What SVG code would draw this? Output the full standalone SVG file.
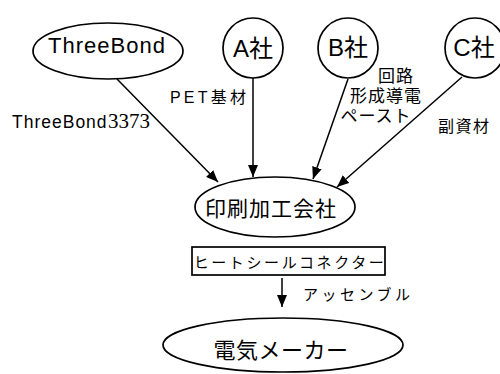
<svg xmlns="http://www.w3.org/2000/svg" width="500" height="374" viewBox="0 0 500 374">
<style>
.shape{fill:#fff;stroke:#000;stroke-width:1.7}
.t{font-family:"Liberation Sans","Noto Sans CJK JP",sans-serif;fill:#000}
.c{stroke:#000;stroke-width:1.5;fill:none}
</style>
<defs>
<marker id="ah" viewBox="0 0 12 10" refX="12" refY="5" markerWidth="12" markerHeight="10" markerUnits="userSpaceOnUse" orient="auto">
<path d="M0,0 L12,5 L0,10 z" fill="#000"/>
</marker>
</defs>
<rect width="500" height="374" fill="#fff"/>
<g id="connectors">
<line class="c" x1="117" y1="79" x2="218" y2="182" marker-end="url(#ah)"/>
<line class="c" x1="253" y1="78" x2="253" y2="177" marker-end="url(#ah)"/>
<line class="c" x1="348" y1="79" x2="313" y2="179" marker-end="url(#ah)"/>
<line class="c" x1="462" y1="77" x2="337" y2="187" marker-end="url(#ah)"/>
<line class="c" x1="282" y1="278" x2="282" y2="307" marker-end="url(#ah)"/>
</g>
<g id="labels" class="t">
<text x="12" y="128" font-size="17.5" letter-spacing="1">ThreeBond</text>
<text x="108" y="128" font-size="21" font-family="Liberation Serif, serif">3373</text>
<text x="170" y="103" font-size="16" letter-spacing="3.2">PET基材</text>
<text x="396" y="82" font-size="17" letter-spacing="1" text-anchor="middle">回路</text>
<text x="386" y="102" font-size="17" letter-spacing="1" text-anchor="middle">形成導電</text>
<text x="376" y="122" font-size="17" letter-spacing="1" text-anchor="middle">ペースト</text>
<text x="438" y="132" font-size="16" letter-spacing="1.5">副資材</text>
<text x="303" y="300" font-size="15" letter-spacing="3.5">アッセンブル</text>
</g>
<g id="threebond">
<ellipse class="shape" cx="108" cy="51" rx="75" ry="28"/>
<text class="t" x="107" y="53" font-size="22" letter-spacing="1" text-anchor="middle">ThreeBond</text>
</g>
<g id="companyA">
<circle class="shape" cx="253" cy="48" r="30"/>
<text class="t" x="253" y="57" font-size="24" text-anchor="middle">A社</text>
</g>
<g id="companyB">
<circle class="shape" cx="348" cy="48" r="30"/>
<text class="t" x="348" y="56" font-size="24" text-anchor="middle">B社</text>
</g>
<g id="companyC">
<circle class="shape" cx="475" cy="48" r="30"/>
<text class="t" x="474" y="56" font-size="24" text-anchor="middle">C社</text>
</g>
<g id="printer">
<ellipse class="shape" cx="275" cy="207" rx="80" ry="30"/>
<text class="t" x="271" y="216" font-size="21" letter-spacing="1" text-anchor="middle">印刷加工会社</text>
</g>
<g id="connector-product">
<rect class="shape" x="192" y="247" width="193" height="28"/>
<text class="t" x="290" y="268" font-size="15" letter-spacing="2.6" text-anchor="middle">ヒートシールコネクター</text>
</g>
<g id="maker">
<ellipse class="shape" cx="283" cy="345" rx="120" ry="27"/>
<text class="t" x="281" y="358" font-size="22" letter-spacing="0.5" text-anchor="middle">電気メーカー</text>
</g>
</svg>
